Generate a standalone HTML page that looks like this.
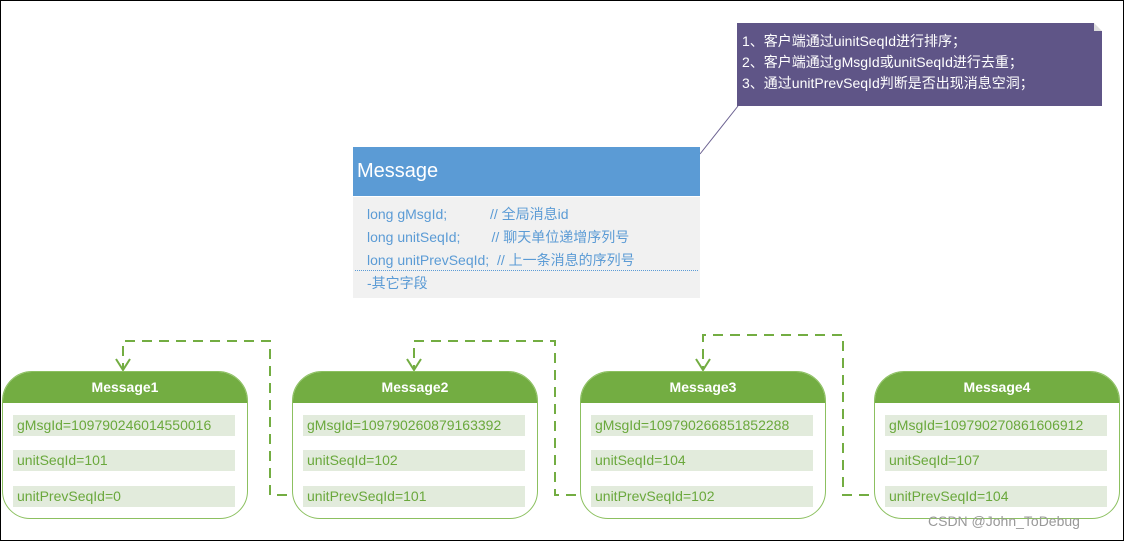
<!DOCTYPE html>
<html><head><meta charset="utf-8"><style>
body{margin:0;width:1124px;height:541px;overflow:hidden;background:#fff;font-family:"Liberation Sans","Noto Sans CJK SC",sans-serif;}
.frame{position:absolute;left:0;top:0;width:1122px;height:539px;border:1px solid #000;}
.abs{position:absolute;}
.mb{position:absolute;top:371px;width:244px;height:146px;border:1.5px solid #8cc060;border-radius:30px 30px 28px 28px;overflow:hidden;background:#fff;}
.mh{height:31px;background:#73ad42;color:#fff;font-weight:bold;font-size:14px;text-align:center;line-height:31px;}
.row{position:absolute;left:10px;width:222px;height:21px;background:#e2ebdc;color:#6aa83c;font-size:14px;line-height:21px;padding-left:4px;box-sizing:border-box;white-space:nowrap;}
</style></head><body>
<div class="frame"></div>
<svg class="abs" style="left:0;top:0" width="1124" height="541">
<line x1="700" y1="154" x2="738" y2="106" stroke="#6a6090" stroke-width="1"/>
<g fill="none" stroke="#73ad42" stroke-width="2" stroke-dasharray="10,7">
<path d="M304 495 H270 V341 H123 V369"/>
<path d="M593 495 H555 V341 H414 V369"/>
<path d="M886 495 H843 V335 H703 V369"/>
</g>
<g fill="none" stroke="#73ad42" stroke-width="2">
<path d="M116 359 L123 370 L130 359"/>
<path d="M407 359 L414 370 L421 359"/>
<path d="M696 359 L703 370 L710 359"/>
</g>
</svg>
<div class="abs" style="left:737px;top:23px;width:365px;height:83px;background:#5f5587;color:#fff;font-size:14px;line-height:21px;padding:8px 0 0 5px;box-sizing:border-box;">1、客户端通过uinitSeqId进行排序；<br>2、客户端通过gMsgId或unitSeqId进行去重；<br>3、通过unitPrevSeqId判断是否出现消息空洞；</div>
<div class="abs" style="left:1094px;top:23px;width:0;height:0;border-left:8px solid #ddd;border-top:8px solid #fff;"></div>
<div class="abs" style="left:353px;top:147px;width:347px;height:49px;background:#5b9bd5;color:#fff;font-size:20px;line-height:49px;padding-left:4px;box-sizing:border-box;">Message</div>
<div class="abs" style="left:353px;top:197px;width:347px;height:101px;background:#f1f1f1;color:#5b9bd5;font-size:14px;">
<div class="abs" style="left:14px;top:6px;line-height:23px;white-space:pre;">long gMsgId;           // 全局消息id
long unitSeqId;        // 聊天单位递增序列号
long unitPrevSeqId;  // 上一条消息的序列号</div>
<div class="abs" style="left:2px;top:73px;width:343px;border-top:1px dotted #5b9bd5;"></div>
<div class="abs" style="left:14px;top:76px;line-height:20px;">-其它字段</div>
</div>
<div class="mb" style="left:2px"><div class="mh">Message1</div>
<div class="row" style="top:43px">gMsgId=109790246014550016</div>
<div class="row" style="top:78px">unitSeqId=101</div>
<div class="row" style="top:114px">unitPrevSeqId=0</div></div>
<div class="mb" style="left:292px"><div class="mh">Message2</div>
<div class="row" style="top:43px">gMsgId=109790260879163392</div>
<div class="row" style="top:78px">unitSeqId=102</div>
<div class="row" style="top:114px">unitPrevSeqId=101</div></div>
<div class="mb" style="left:580px"><div class="mh">Message3</div>
<div class="row" style="top:43px">gMsgId=109790266851852288</div>
<div class="row" style="top:78px">unitSeqId=104</div>
<div class="row" style="top:114px">unitPrevSeqId=102</div></div>
<div class="mb" style="left:874px"><div class="mh">Message4</div>
<div class="row" style="top:43px">gMsgId=109790270861606912</div>
<div class="row" style="top:78px">unitSeqId=107</div>
<div class="row" style="top:114px">unitPrevSeqId=104</div></div>
<div class="abs" style="left:928px;top:513px;font-size:14px;color:#999;">CSDN @John_ToDebug</div>
</body></html>
